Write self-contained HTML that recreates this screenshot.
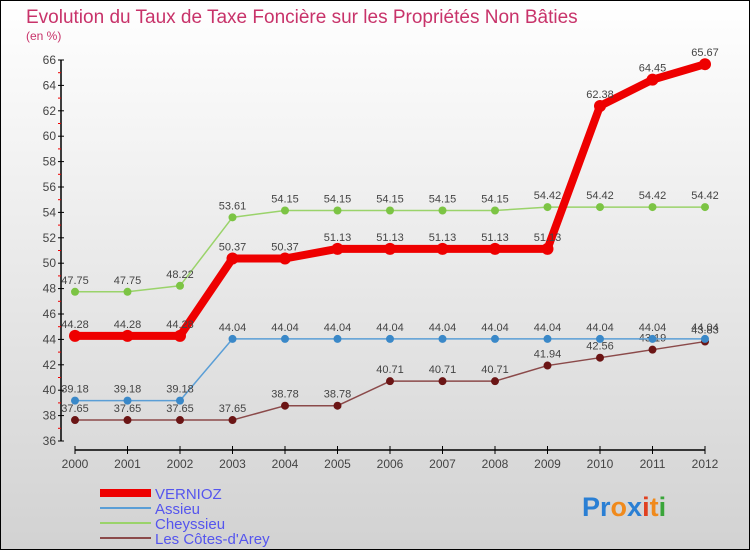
<!DOCTYPE html>
<html><head><meta charset="utf-8">
<style>
html,body{margin:0;padding:0;}
body{width:750px;height:550px;overflow:hidden;font-family:"Liberation Sans",sans-serif;}
</style></head>
<body>
<svg id="chart" width="750" height="550" xmlns="http://www.w3.org/2000/svg" style="display:block">
<defs>
<linearGradient id="bg" x1="0" y1="0" x2="0" y2="1">
<stop offset="0" stop-color="#ffffff"/><stop offset="1" stop-color="#d2d2d2"/>
</linearGradient>
</defs>
<rect x="0.5" y="0.5" width="749" height="549" fill="url(#bg)" stroke="#000" stroke-width="1"/>
<text x="26" y="23" font-size="19" fill="#c8336a">Evolution du Taux de Taxe Foncière sur les Propriétés Non Bâties</text>
<text x="26" y="40" font-size="12" fill="#c8336a">(en %)</text>
<g id="axes"></g>
<g id="series"></g>
<g id="legend"></g>
<g font-size="27" font-weight="bold" font-family="Liberation Sans, sans-serif">
<text x="582" y="516"><tspan fill="#2a7fd4">Pr</tspan><tspan fill="#f08a1c">o</tspan><tspan fill="#2a7fd4">x</tspan><tspan fill="#e04020">i</tspan><tspan fill="#f08a1c">t</tspan><tspan fill="#3aa53a">i</tspan></text>
</g>
</svg>
<script>
const years = [2000,2001,2002,2003,2004,2005,2006,2007,2008,2009,2010,2011,2012];
const vernioz = [44.28,44.28,44.28,50.37,50.37,51.13,51.13,51.13,51.13,51.13,62.38,64.45,65.67];
const assieu = [39.18,39.18,39.18,44.04,44.04,44.04,44.04,44.04,44.04,44.04,44.04,44.04,44.04];
const cheyssieu = [47.75,47.75,48.22,53.61,54.15,54.15,54.15,54.15,54.15,54.42,54.42,54.42,54.42];
const cotes = [37.65,37.65,37.65,37.65,38.78,38.78,40.71,40.71,40.71,41.94,42.56,43.19,43.83];
const yTicks = [36,38,40,42,44,46,48,50,52,54,56,58,60,62,64,66];
const seriesNames = ["VERNIOZ","Assieu","Cheyssieu","Les Côtes-d'Arey"];

const NS="http://www.w3.org/2000/svg";
const X0=75,XS=52.5,Y0=441,YMIN=36,YS=12.7;
function xs(i){return X0+i*XS;}
function ys(v){return Y0-(v-YMIN)*YS;}
function mk(tag,attrs,parent){const e=document.createElementNS(NS,tag);for(const k in attrs)e.setAttribute(k,attrs[k]);parent.appendChild(e);return e;}
const axes=document.getElementById('axes'),ser=document.getElementById('series'),leg=document.getElementById('legend');

// y axis
let ya=mk('line',{x1:61,y1:ys(66),x2:61,y2:ys(36),stroke:'#000','stroke-width':1.5},axes);


yTicks.forEach(t=>{
  const y=ys(t);
  mk('line',{x1:58,y1:y,x2:64,y2:y,stroke:'#000'},axes);
  const tx=mk('text',{x:56,y:y+4,'text-anchor':'end','font-size':12,fill:'#444'},axes);
  tx.textContent=t;
  
  
  if(t<66) mk('line',{x1:58,y1:ys(t+1),x2:61,y2:ys(t+1),stroke:'#e00'},axes);
});
// x axis
let xa=mk('line',{x1:xs(0),y1:450,x2:xs(12),y2:450,stroke:'#000','stroke-width':1.5},axes);


years.forEach((yr,i)=>{
  mk('line',{x1:xs(i),y1:446,x2:xs(i),y2:454,stroke:'#000'},axes);
  const tx=mk('text',{x:xs(i),y:468,'text-anchor':'middle','font-size':12,fill:'#444'},axes);
  tx.textContent=yr;
  
  
});

function drawSeries(vals,color,width,r,name,dotColor){
  const g=mk('g',{},ser);
  
  
  mk('polyline',{points:vals.map((v,i)=>xs(i)+','+ys(v)).join(' '),fill:'none',stroke:color,'stroke-width':width,'stroke-linejoin':'round'},g);
  vals.forEach((v,i)=>{
    const c=mk('circle',{cx:xs(i),cy:ys(v),r:r,fill:dotColor},g);
    
    
    const t=mk('text',{x:xs(i),y:ys(v)-8,'text-anchor':'middle','font-size':11,fill:'#444'},g);
    t.textContent=v.toFixed(2);
    
    
  });
}
drawSeries(cotes,'#8b4a4a',1.5,4,'cotes-series','#6b1515');
drawSeries(cheyssieu,'#9ad36a',1.5,4,'cheyssieu-series','#7cc444');
drawSeries(assieu,'#5a9ed6',1.5,4,'assieu-series','#3a88c8');
drawSeries(vernioz,'#ee0000',8,6,'vernioz-series','#ee0000');

const legStyles=[['#ee0000',8],['#5a9ed6',2],['#9ad36a',2],['#8b4a4a',2]];
seriesNames.forEach((n,i)=>{
  const y=493+i*15;
  const g=mk('g',{},leg);
  
  
  mk('line',{x1:100,y1:y,x2:151,y2:y,stroke:legStyles[i][0],'stroke-width':legStyles[i][1]},g);
  const t=mk('text',{x:155,y:y+6,'font-size':15,fill:'#5555ee'},g);
  t.textContent=n;
});
</script>
</body></html>
